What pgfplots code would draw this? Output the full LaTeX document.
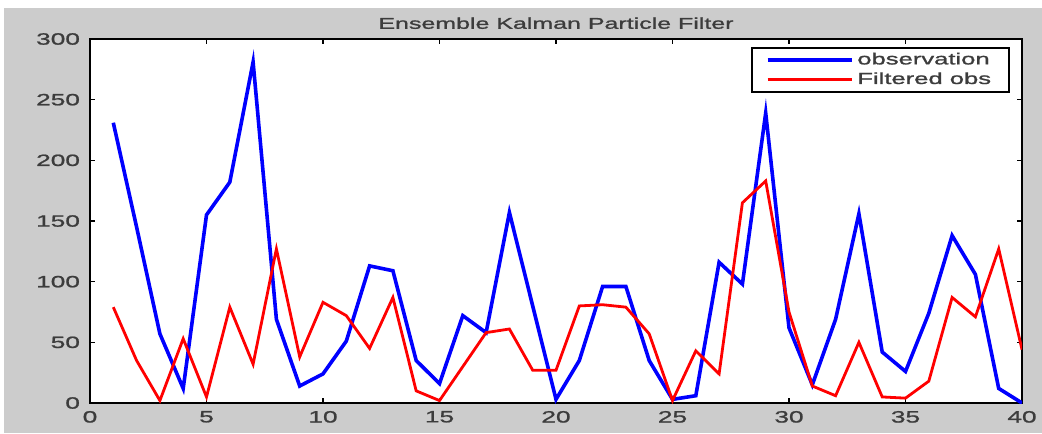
\documentclass[border=0pt]{standalone}
\usepackage{fontspec}
\setmainfont{Liberation Sans}[FakeStretch=1.6, FakeBold=1.2]
\usepackage{pgfplots}
\pgfplotsset{compat=1.18}
\definecolor{bggray}{RGB}{204,204,204}
\definecolor{txt}{RGB}{60,60,60}
\begin{document}
\begin{tikzpicture}
\path[use as bounding box] (-45pt,-15pt) rectangle (476pt,201.5pt);
\fill[white] (-45pt,-15pt) rectangle (476pt,201.5pt);
\fill[bggray] (-43pt,-15pt) rectangle (476pt,197.5pt);
\begin{axis}[
  at={(0,0)}, anchor=south west,
  scale only axis, width=466pt, height=182pt,
  xmin=0, xmax=40, ymin=0, ymax=300,
  xtick={0,5,...,40}, ytick={0,50,...,300},
  tick align=inside, major tick length=2.5pt,
  tick style={black, line width=0.8pt},
  axis line style={black, line width=1pt},
  axis background/.style={fill=white},
  /pgf/number format/assume math mode=true,
  tick label style={font=\fontsize{8.2}{9}\selectfont, text=txt},
  xticklabel style={yshift=-0.5pt},
  yticklabel style={xshift=-1.5pt},
  title={Ensemble Kalman Particle Filter},
  title style={font=\fontsize{7.8}{9}\selectfont, text=txt, yshift=-4.5pt},
  legend style={at={(0.987,0.978)}, anchor=north east, draw=black, line width=0.8pt,
    fill=white, font=\fontsize{8}{9}\selectfont, text=txt,
    inner xsep=7pt, inner ysep=0.5pt, row sep=-1.5pt},
  legend cell align=left,
  legend image code/.code={\draw[#1] (0pt,0pt) -- (42pt,0pt);},
]
\addplot[blue, line width=1.8pt] coordinates {
(1,231)(2,145)(3,57)(4,12)(5,155)(6,182)(7,281)(8,69)(9,14)(10,24)
(11,51)(12,113)(13,109)(14,35)(15,16)(16,72)(17,58)(18,157)(19,80)(20,3)
(21,35)(22,96)(23,96)(24,35)(25,3)(26,6)(27,116)(28,98)(29,239)(30,62)
(31,15)(32,69)(33,156)(34,42)(35,26)(36,74)(37,138)(38,106)(39,12)(40,0)};
\addlegendentry{observation}
\addplot[red, line width=1.4pt] coordinates {
(1,79)(2,35)(3,2)(4,53)(5,5)(6,79)(7,32)(8,127)(9,38)(10,83)
(11,72)(12,45)(13,87)(14,10)(15,2)(16,30)(17,58)(18,61)(19,27)(20,27)
(21,80)(22,81)(23,79)(24,57)(25,2)(26,43)(27,24)(28,165)(29,183)(30,75)
(31,14)(32,6)(33,50)(34,5)(35,4)(36,18)(37,87)(38,71)(39,127)(40,44)};
\addlegendentry{Filtered obs}
\end{axis}
\end{tikzpicture}
\end{document}
